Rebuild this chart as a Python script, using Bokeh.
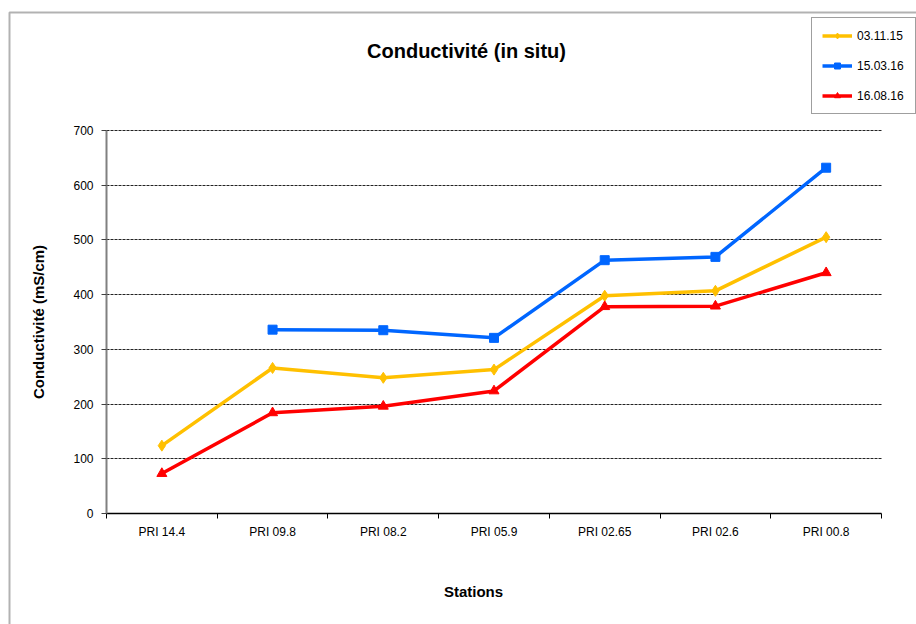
from bokeh.plotting import figure
from bokeh.models import (Range1d, FixedTicker, Legend, LegendItem, Label,
                          BoxAnnotation, ColumnDataSource)
from bokeh.embed import file_html
from bokeh.resources import INLINE

nan = float("nan")

stations = ["PRI 14.4", "PRI 09.8", "PRI 08.2", "PRI 05.9",
            "PRI 02.65", "PRI 02.6", "PRI 00.8"]
series_names = ["03.11.15", "15.03.16", "16.08.16"]
values_031115 = [124, 266, 248, 263, 398, 407, 505]
values_150316 = [nan, 336, 335, 321, 463, 469, 632]
values_160816 = [73, 184, 196, 224, 378, 379, 440]
y_ticks = [0, 100, 200, 300, 400, 500, 600, 700]

title_text = "Conductivité (in situ)"
y_label = "Conductivité (mS/cm)"
x_label = "Stations"

FONT = "Liberation Sans"

# ---- layout (pixels) ----
W, H = 916, 624
AX_L, AX_R, AX_T, AX_B = 106, 881, 130, 513     # axes box in pixels
n = len(stations)
y_max = y_ticks[-1]
sx = (AX_R - AX_L) / n
sy = (AX_B - AX_T) / y_max


def px_x(px):
    return (px - AX_L) / sx


def px_y(py):
    return (AX_B - py) / sy


p = figure(width=W, height=H, output_backend="svg", toolbar_location=None,
           x_range=Range1d(px_x(0), px_x(W)), y_range=Range1d(px_y(H), px_y(0)),
           min_border=0, min_border_left=0, min_border_right=0,
           min_border_top=0, min_border_bottom=0)
p.outline_line_color = None
p.background_fill_color = "white"
p.border_fill_color = "white"

# x axis: labels at category centres, ticks at boundaries
xpos = [i + 0.5 for i in range(n)]
xa = p.xaxis[0]
xa.fixed_location = 0
xa.bounds = (0, n)
xa.ticker = FixedTicker(ticks=xpos, minor_ticks=list(range(n + 1)))
xa.major_label_overrides = {x: s for x, s in zip(xpos, stations)}
xa.major_tick_line_color = None
xa.major_tick_out = 0
xa.major_tick_in = 0
xa.minor_tick_line_color = "black"
xa.minor_tick_out = 5
xa.minor_tick_in = 0
xa.axis_line_color = "black"
xa.axis_line_width = 1.5
xa.major_label_text_font = FONT
xa.major_label_text_font_size = "12px"
xa.major_label_text_color = "black"
xa.major_label_standoff = 6

ya = p.yaxis[0]
ya.fixed_location = 0
ya.bounds = (0, y_max)
ya.ticker = FixedTicker(ticks=y_ticks, minor_ticks=[])
ya.axis_line_color = "#808080"
ya.axis_line_width = 2
ya.major_tick_line_color = "#404040"
ya.major_tick_out = 5
ya.major_tick_in = 0
ya.minor_tick_line_color = None
ya.major_label_text_font = FONT
ya.major_label_text_font_size = "12px"
ya.major_label_text_color = "black"
ya.major_label_standoff = 8
ya.axis_label = y_label
ya.axis_label_text_font = FONT
ya.axis_label_text_font_size = "15px"
ya.axis_label_text_font_style = "bold"
ya.axis_label_text_color = "black"
ya.axis_label_standoff = 23

p.xgrid.grid_line_color = None
p.ygrid.ticker = FixedTicker(ticks=y_ticks[1:])
p.ygrid.grid_line_color = "#222222"
p.ygrid.grid_line_dash = "3 1"
p.ygrid.grid_line_width = 1
try:
    p.ygrid.bounds = (0, y_max)
    p.ygrid.cross_bounds = (0, n)
except Exception:
    p.ygrid.grid_line_color = None
    p.segment(x0=[0] * (len(y_ticks) - 1), x1=[n] * (len(y_ticks) - 1),
              y0=y_ticks[1:], y1=y_ticks[1:], line_color="#222222",
              line_dash="3 1", line_width=1)

src = ColumnDataSource(dict(x=xpos, a=values_031115, b=values_150316, c=values_160816))

colors = ["#FFC000", "#0066FF", "#FF0000"]
cols = ["a", "b", "c"]
markers = ["diamond", "square", "triangle"]
sizes = [11, 9, 10]
items = []
for name, col, color, mk, sz in zip(series_names, cols, colors, markers, sizes):
    r1 = p.line("x", col, source=src, line_color=color, line_width=3.5)
    r2 = p.scatter("x", col, source=src, marker=mk, size=sz,
                   fill_color=color, line_color=color)
    items.append(LegendItem(label=name, renderers=[r1, r2]))

legend = Legend(items=items, location=(811, H - 114))
legend.label_text_font = FONT
legend.label_text_font_size = "12px"
legend.label_text_color = "black"
legend.border_line_color = "#404040"
legend.border_line_width = 1
legend.background_fill_color = "white"
legend.padding = 10
legend.spacing = 15
legend.glyph_height = 15
legend.label_height = 15
legend.glyph_width = 30
legend.label_standoff = 5
legend.label_width = 48
legend.margin = 0
p.add_layout(legend)

# chart title
p.add_layout(Label(x=px_x(466), y=px_y(50), text=title_text,
                   text_align="center", text_baseline="middle",
                   text_font=FONT, text_font_size="20px", text_font_style="bold",
                   text_color="black"))

# x axis title
p.add_layout(Label(x=px_x(473), y=px_y(591), text=x_label,
                   text_align="center", text_baseline="middle",
                   text_font=FONT, text_font_size="15px", text_font_style="bold",
                   text_color="black"))

# outer chart-area border (only its left and top edges are in view)
p.add_layout(BoxAnnotation(left=px_x(9), right=px_x(W + 50), top=px_y(12),
                           bottom=px_y(H + 50), fill_color=None,
                           line_color="black", line_width=2))

open("out.html", "w").write(file_html(p, INLINE))
